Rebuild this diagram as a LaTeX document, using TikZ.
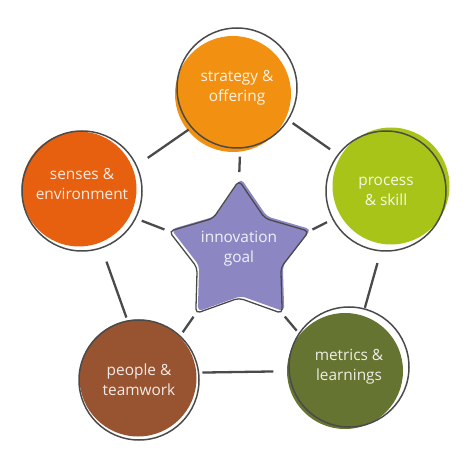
\documentclass[tikz,border=0pt]{standalone}
\usepackage{fontspec}
\setmainfont{Open Sans}
\usetikzlibrary{shapes.geometric}

\definecolor{stratcol}{HTML}{F29111}
\definecolor{proccol}{HTML}{A9C418}
\definecolor{sensecol}{HTML}{E6600F}
\definecolor{peoplecol}{HTML}{985330}
\definecolor{metriccol}{HTML}{667431}
\definecolor{starcol}{HTML}{8C87C3}
\definecolor{linecol}{HTML}{4A4A4A}

\tikzset{
  blob/.style={circle, draw=linecol, line width=1.5pt, minimum size=120pt, inner sep=0pt,
    text=white, text opacity=0.88, align=center, font=\fontsize{15.4}{20}\selectfont},
  link/.style={draw=linecol, line width=2.3pt},
  goalstar/.style={star, star points=5, star point ratio=1.7, minimum size=147pt,
    inner sep=0pt, outer sep=0pt},
  starpath/.style={rounded corners=4.5pt},
}

\begin{document}
\begin{tikzpicture}[x=1pt,y=-1pt]
\useasboundingbox (0,0) rectangle (474,462);

% the five circles
\fill[stratcol] (233,94) circle (58);
\node[blob] (strat) at (237,88) {strategy \&\\offering};

\fill[proccol] (391,186) circle (58.5);
\node[blob] (proc) at (386,191) {process\\\& skill};

\fill[sensecol] (79,189) circle (57.5);
\node[blob, text depth=14pt] (senses) at (82,191) {senses \&\\environment};

\fill[peoplecol] (138,378) circle (58.5);
\node[blob] (people) at (139,380) {people \&\\teamwork};

\fill[metriccol] (345,371) circle (58);
\node[blob] (metric) at (349,367) {metrics \&\\learnings};

% star in the middle (angles run clockwise, y points down)
\fill[starcol, starpath] (241,252) +(-90:73.5) -- +(-54:44) -- +(-18:73.5) -- +(18:44)
  -- +(54:73.5) -- +(90:44) -- +(126:73.5) -- +(162:44) -- +(198:73.5) -- +(234:44) -- cycle;
\draw[linecol, line width=1.3pt, starpath] (239,254) +(-90:73.5) -- +(-54:44) -- +(-18:73.5)
  -- +(18:44) -- +(54:73.5) -- +(90:44) -- +(126:73.5) -- +(162:44) -- +(198:73.5)
  -- +(234:44) -- cycle;
\node[goalstar] (goal) at (239,254) {};
\node[text=white, text opacity=0.88, align=center, font=\fontsize{15.4}{20}\selectfont]
  (goaltext) at (239,249) {innovation\\goal};

% ring
\draw[link, shorten <=3pt, shorten >=13pt] (strat.221) -- (senses.25);
\draw[link, shorten <=5pt, shorten >=9pt] (strat.328) -- (proc.143);
\draw[link, shorten <=12pt, shorten >=0.5pt] (proc.265) -- (metric.75);
\draw[link, shorten <=15pt, shorten >=3pt] (metric.184) -- (people.7);
\draw[link, shorten <=3pt, shorten >=14pt] (people.101) -- (senses.289);

% spokes
\draw[link, shorten <=8.5pt, shorten >=8pt] (goal.outer point 1) -- (strat.273);
\draw[link, shorten <=5pt, shorten >=6pt] (goal.outer point 2) -- (senses.333);
\draw[link, shorten <=4pt, shorten >=6pt] (goal.outer point 5) -- (proc.208);
\draw[link, shorten <=4pt, shorten >=4pt] (goal.outer point 3) -- (people.47);
\draw[link, shorten <=4pt, shorten >=3pt] (goal.outer point 4) -- (metric.146);

\end{tikzpicture}
\end{document}
